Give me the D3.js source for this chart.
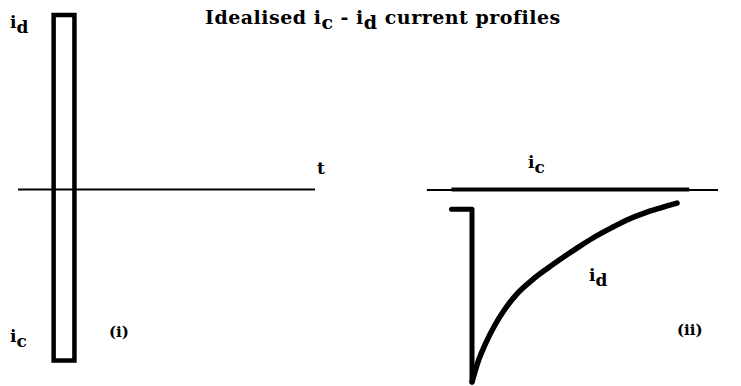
<!DOCTYPE html>
<html>
<head>
<meta charset="utf-8">
<script src="https://cdn.jsdelivr.net/npm/d3@7"></script>
<style>
  html, body { margin: 0; padding: 0; background: #fff; }
  svg { display: block; }
</style>
</head>
<body>
<svg id="chart" width="741" height="386"></svg>
<script>
// Panel (i): a short rectangular pulse, i_d above the time axis and i_c below it
const pulseStart = 0.12;
const pulseEnd = 0.19;
const pulseTop = 1.0;      // i_d
const pulseBottom = -0.98; // i_c

// Panel (ii): constant i_c along the axis, i_d steps down then decays back towards zero
const icSpan = [-0.1, 1.06];
const stepT = [-0.1, 0, 0];
const stepI = [-0.1, -0.1, -1.0];
const decayT = [0, 0.029, 0.063, 0.112, 0.161, 0.224, 0.293, 0.371, 0.454, 0.527, 0.59, 0.688, 0.756, 0.854, 0.917, 1.0];
const decayI = [-1.0, -0.896, -0.807, -0.703, -0.62, -0.536, -0.469, -0.406, -0.344, -0.292, -0.25, -0.193, -0.156, -0.115, -0.094, -0.068];

const FONT = "'DejaVu Serif', 'Liberation Serif', serif";

const svg = d3.select("#chart");

// scales for panel (i)
const x1 = d3.scaleLinear().domain([0, 1]).range([18, 315]);
const y1 = d3.scaleLinear().domain([-1, 1]).range([364, 15]);

// scales for panel (ii)
const x2 = d3.scaleLinear().domain([0, 1]).range([472, 677]);
const y2 = d3.scaleLinear().domain([-1, 0]).range([382, 190]);

// ---- panel (i)
svg.append("line")
  .attr("x1", x1(0)).attr("x2", x1(1))
  .attr("y1", y1(0)).attr("y2", y1(0))
  .attr("stroke", "#000").attr("stroke-width", 2);

svg.append("rect")
  .attr("x", x1(pulseStart)).attr("y", y1(pulseTop))
  .attr("width", x1(pulseEnd) - x1(pulseStart))
  .attr("height", y1(pulseBottom) - y1(pulseTop))
  .attr("fill", "none").attr("stroke", "#000").attr("stroke-width", 4.5);

// ---- panel (ii)
svg.append("line")
  .attr("x1", x2(-0.22)).attr("x2", x2(1.2))
  .attr("y1", y2(0)).attr("y2", y2(0))
  .attr("stroke", "#000").attr("stroke-width", 2);

svg.append("line")
  .attr("x1", x2(icSpan[0])).attr("x2", x2(icSpan[1]))
  .attr("y1", y2(0) - 0.5).attr("y2", y2(0) - 0.5)
  .attr("stroke", "#000").attr("stroke-width", 4);

const stepLine = d3.line().x(d => x2(d[0])).y(d => y2(d[1]));
svg.append("path")
  .attr("d", stepLine(d3.zip(stepT, stepI)))
  .attr("fill", "none").attr("stroke", "#000").attr("stroke-width", 5)
  .attr("stroke-linejoin", "round").attr("stroke-linecap", "round");

const decayLine = d3.line().x(d => x2(d[0])).y(d => y2(d[1])).curve(d3.curveMonotoneX);
svg.append("path")
  .attr("d", decayLine(d3.zip(decayT, decayI)))
  .attr("fill", "none").attr("stroke", "#000").attr("stroke-width", 5.5)
  .attr("stroke-linecap", "round");

// ---- text
function addText(x, y, size) {
  return svg.append("text").attr("x", x).attr("y", y)
    .attr("font-family", FONT).attr("font-weight", "bold")
    .attr("font-size", size).attr("fill", "#000");
}
function subLabel(x, y, main, sub, size) {
  const t = addText(x, y, size);
  t.append("tspan").text(main);
  t.append("tspan").attr("dy", size * 0.3).text(sub);
  return t;
}

const title = addText(205, 24, 19).attr("letter-spacing", 0.5);
title.append("tspan").text("Idealised i");
title.append("tspan").attr("dy", 5).text("c");
title.append("tspan").attr("dy", -5).text(" - i");
title.append("tspan").attr("dy", 5).text("d");
title.append("tspan").attr("dy", -5).text(" current profiles");

subLabel(10, 28, "i", "d", 17);
subLabel(10, 342, "i", "c", 17);
addText(317, 174, 17).text("t");
addText(109, 337, 15).text("(i)");

subLabel(528, 168, "i", "c", 17);
subLabel(589, 281, "i", "d", 17);
addText(677, 335, 15).text("(ii)");
</script>
</body>
</html>
